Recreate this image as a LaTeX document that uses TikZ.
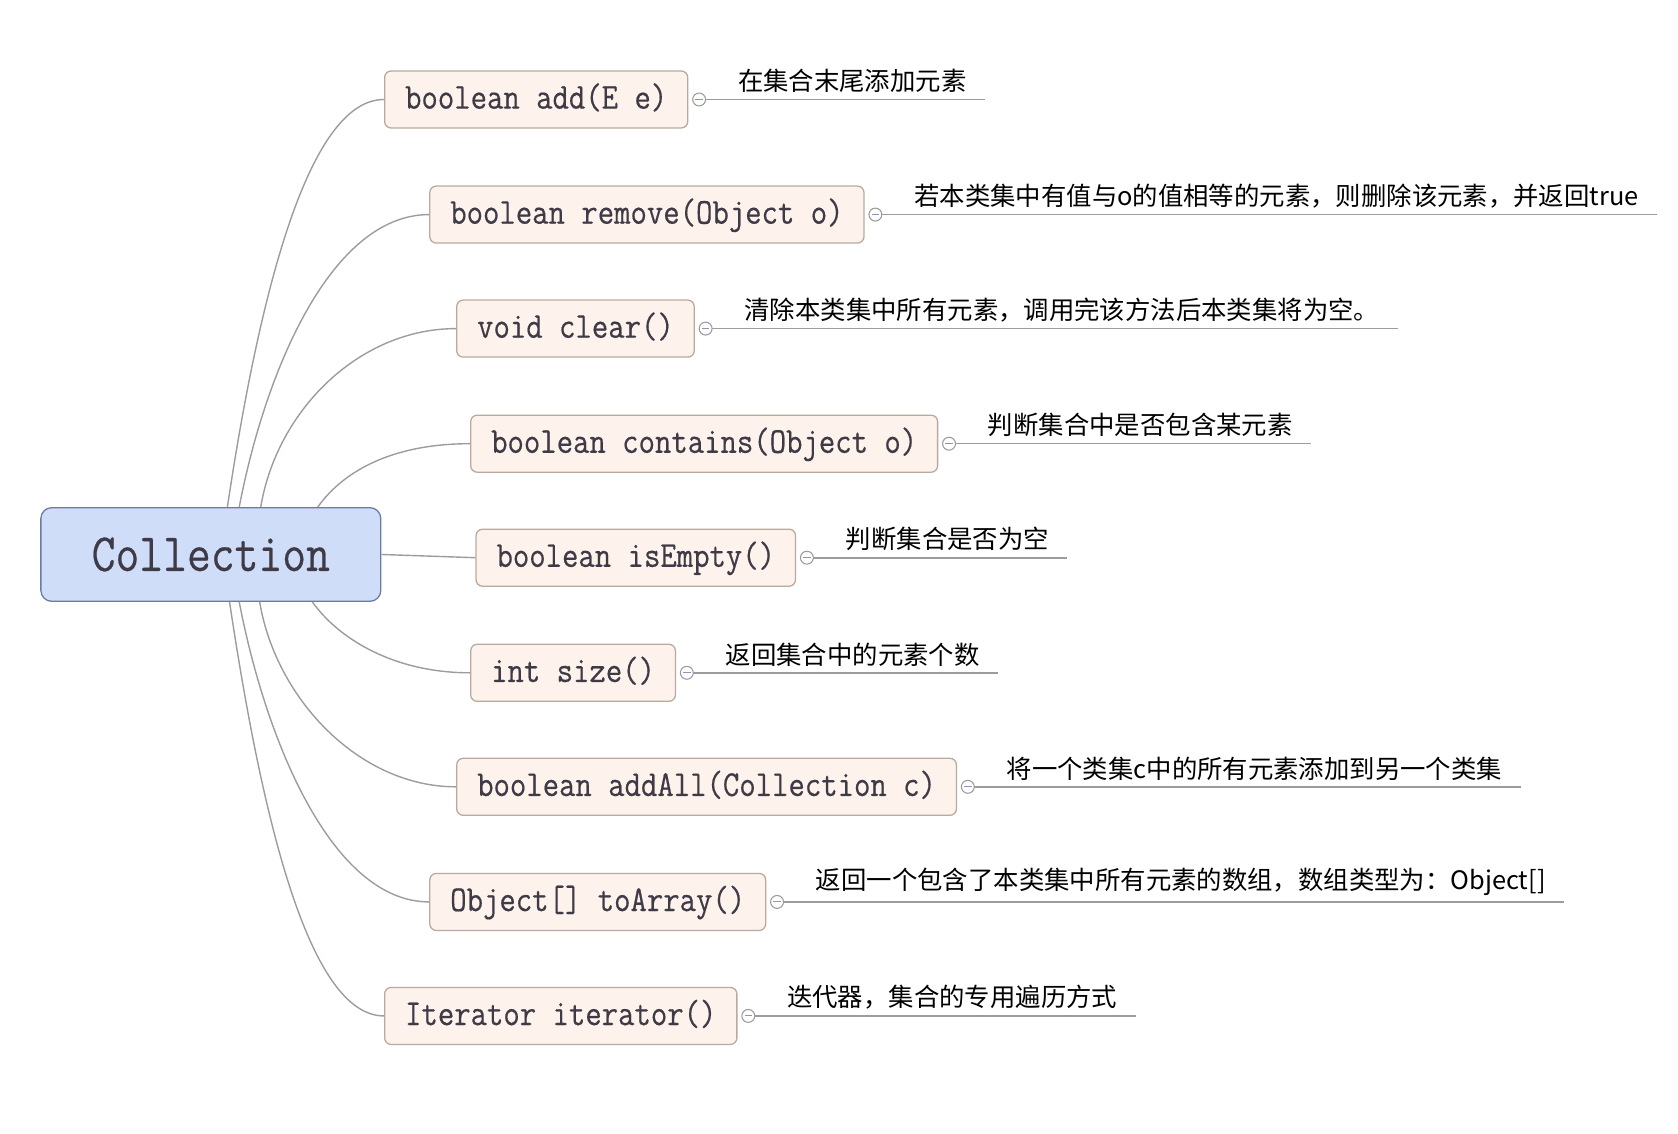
\documentclass[tikz,border=0pt]{standalone}
\usepackage{fontspec}
\newfontfamily\cjk{Noto Sans CJK SC}
\newfontfamily\codefont[FakeStretch=0.87,FakeBold=0.4]{Latin Modern Mono}
\newfontfamily\rootfont[FakeStretch=0.86,FakeBold=0.4]{Latin Modern Mono}
\usetikzlibrary{calc}
\definecolor{rootfill}{HTML}{CFDDF8}
\definecolor{rootdraw}{HTML}{6A7CA3}
\definecolor{childfill}{HTML}{FDF3EC}
\definecolor{childdraw}{HTML}{B8AA9E}
\definecolor{linec}{HTML}{9C9C9C}
\definecolor{txt}{HTML}{3E3A46}
\definecolor{minusc}{HTML}{8A96B4}
\begin{document}
\begin{tikzpicture}[x=1pt,y=1pt,
  rootbox/.style={draw=rootdraw, fill=rootfill, rounded corners=10pt, line width=1.2pt,
    minimum width=316pt, minimum height=87pt, inner sep=0pt,
    font=\fontsize{50}{56}\selectfont\rootfont, text=txt},
  childbox/.style={draw=childdraw, fill=childfill, rounded corners=6pt, line width=1.2pt,
    minimum height=53pt, inner xsep=19pt, inner ysep=0pt, anchor=west,
    font=\fontsize{34}{38}\selectfont\codefont, text=txt, text height=23pt, text depth=6pt},
  knob/.style={circle, draw=linec, fill=white, minimum size=12pt, inner sep=0pt, line width=1pt,
    path picture={\draw[minusc, line width=1pt] ([xshift=2.5pt]path picture bounding box.west) -- ([xshift=-2.5pt]path picture bounding box.east);}},
  note/.style={anchor=south west, inner xsep=0pt, inner ysep=6pt,
    font=\fontsize{23.6}{27}\selectfont\cjk, text=black},
  conn/.style={draw=linec, line width=1.3pt},
  noteline/.style={draw=linec, line width=1.5pt},
]
\useasboundingbox (0,0) rectangle (1560,1054);

\node[rootbox] (root) at (196,538.5) {Collection};

\node[childbox] (c1) at (357,961.5) {boolean add(E e)};
\node[childbox] (c2) at (399,854.5) {boolean remove(Object o)};
\node[childbox] (c3) at (424,748.5) {void clear()};
\node[childbox] (c4) at (437,641.5) {boolean contains(Object o)};
\node[childbox] (c5) at (442,535.5) {boolean isEmpty()};
\node[childbox] (c6) at (437,428.5) {int size()};
\node[childbox] (c7) at (424,322.5) {boolean addAll(Collection c)};
\node[childbox] (c8) at (399,215.5) {Object[] toArray()};
\node[childbox] (c9) at (357,109.5) {Iterator iterator()};

% connectors from root
\coordinate (r1) at ($(root.north west)+(174,0)$);
\coordinate (r2) at ($(root.north west)+(185,0)$);
\coordinate (r3) at ($(root.north west)+(205,0)$);
\coordinate (r4) at ($(root.north west)+(258,0)$);
\coordinate (r6) at ($(root.south west)+(253,0)$);
\coordinate (r7) at ($(root.south west)+(204,0)$);
\coordinate (r8) at ($(root.south west)+(185,0)$);
\coordinate (r9) at ($(root.south west)+(176,0)$);

\draw[conn] (r1) .. controls +(30,200) and +(-70,0) .. (c1.west);
\draw[conn] (r2) .. controls +(25,130) and +(-90,0) .. (c2.west);
\draw[conn] (r3) .. controls +(15,90) and +(-90,0) .. (c3.west);
\draw[conn] (r4) .. controls +(25,35) and +(-70,0) .. (c4.west);
\draw[conn] (root.east) -- (c5.west);
\draw[conn] (r6) .. controls +(25,-35) and +(-70,0) .. (c6.west);
\draw[conn] (r7) .. controls +(15,-90) and +(-90,0) .. (c7.west);
\draw[conn] (r8) .. controls +(25,-130) and +(-90,0) .. (c8.west);
\draw[conn] (r9) .. controls +(30,-200) and +(-70,0) .. (c9.west);

% knobs, notes and note lines
\foreach \i/\t in {
  1/{在集合末尾添加元素},
  2/{若本类集中有值与o的值相等的元素，则删除该元素，并返回true},
  3/{清除本类集中所有元素，调用完该方法后本类集将为空。},
  4/{判断集合中是否包含某元素},
  5/{判断集合是否为空},
  6/{返回集合中的元素个数},
  7/{将一个类集c中的所有元素添加到另一个类集},
  8/{返回一个包含了本类集中所有元素的数组，数组类型为：Object[]},
  9/{迭代器，集合的专用遍历方式}}{
  \node[note] (n\i) at ($(c\i.east)+(46,0)$) {\t};
  \draw[noteline] ($(c\i.east)+(16,0)$) -- ($(n\i.south east)+(17,0)$);
  \node[knob] (k\i) at ($(c\i.east)+(10,0)$) {};
}
\end{tikzpicture}
\end{document}
